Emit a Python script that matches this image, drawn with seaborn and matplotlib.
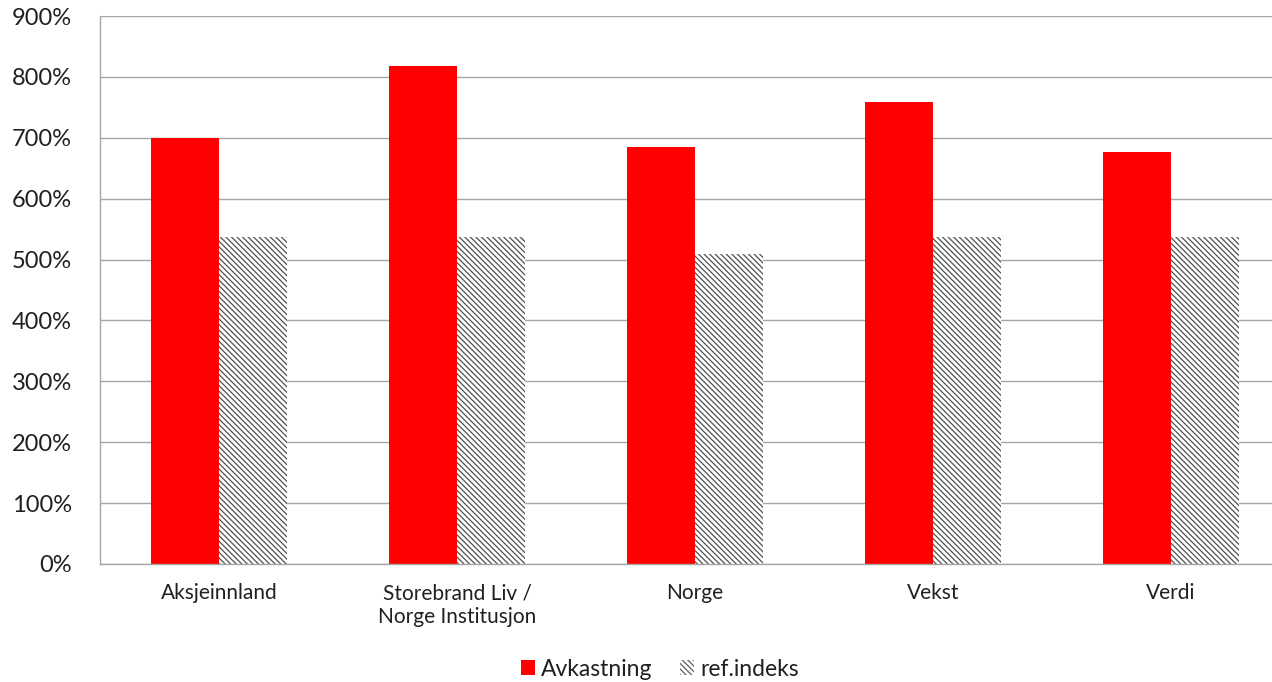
import matplotlib
matplotlib.use("Agg")
import matplotlib.pyplot as plt
import seaborn as sns
import pandas as pd
from matplotlib.patches import Patch
from matplotlib.ticker import FuncFormatter

categories = ["Aksjeinnland", "Storebrand Liv /\nNorge Institusjon", "Norge", "Vekst", "Verdi"]
avkastning = [700, 818, 685, 758, 677]
ref_indeks = [537, 537, 509, 537, 537]
series_names = ["Avkastning", "ref.indeks"]

sns.set_theme(style="white")
plt.rcParams['font.family'] = ['Lato', 'DejaVu Sans']
plt.rcParams['hatch.linewidth'] = 0.9
plt.rcParams['hatch.color'] = '#505050'

df = pd.DataFrame({
    "Kategori": categories * 2,
    "Serie": [series_names[0]] * len(categories) + [series_names[1]] * len(categories),
    "Verdi": avkastning + ref_indeks,
})

fig = plt.figure(figsize=(12.72, 6.82), dpi=100)
ax = fig.add_axes([100/1272, 1 - 564/682, 1190/1272, (564-16)/682])

palette = {"Avkastning": "#ff0000", "ref.indeks": "white"}
sns.barplot(data=df, x="Kategori", y="Verdi", hue="Serie", palette=palette,
            width=0.571, gap=0, saturation=1, ax=ax, legend=False, errorbar=None,
            linewidth=0)

n = len(categories)
HATCH = '\\\\\\\\\\\\'
for i, p in enumerate(ax.patches):
    if i >= n:
        p.set_hatch(HATCH)
        p.set_edgecolor('#505050')
        p.set_linewidth(0)

ax.set_ylim(0, 900)
ax.set_yticks(range(0, 901, 100))
ax.yaxis.set_major_formatter(FuncFormatter(lambda v, _: f"{int(v)}%"))
ax.set_xlim(-0.5, n - 0.5)
ax.grid(axis='y', color='#a6a6a6', linewidth=1)
ax.set_axisbelow(True)
for s in ['top', 'right']:
    ax.spines[s].set_visible(False)
ax.spines['left'].set_color('#a6a6a6')
ax.spines['bottom'].set_color('#a6a6a6')
ax.spines['left'].set_linewidth(1)
ax.spines['bottom'].set_linewidth(1)
ax.tick_params(axis='y', length=0, pad=20, labelsize=17, labelcolor='#202020')
ax.tick_params(axis='x', length=0, pad=14, labelsize=15, labelcolor='#202020')
for t in ax.get_xticklabels():
    t.set_linespacing(1.25)
ax.set_xlabel("")
ax.set_ylabel("")

handles = [Patch(facecolor="#ff0000", edgecolor="none", label=series_names[0]),
           Patch(facecolor="white", edgecolor="#606060", hatch=HATCH, linewidth=0, label=series_names[1])]
fig.legend(handles=handles, loc='center', bbox_to_anchor=(660/1272, 1 - 669/682), ncol=2,
           frameon=False, fontsize=16.5, handlelength=0.62, handleheight=0.62,
           handletextpad=0.28, columnspacing=1.18, labelcolor='#202020')

fig.savefig("out.png", dpi=100)
